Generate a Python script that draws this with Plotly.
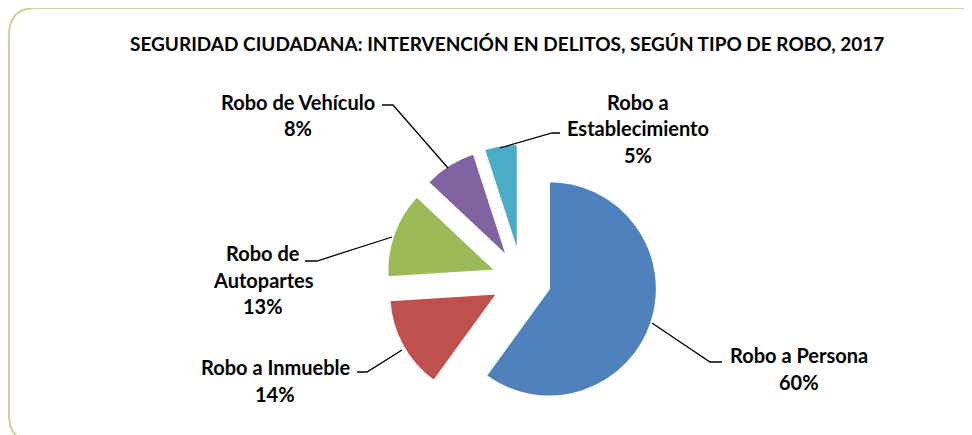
import plotly.graph_objects as go

# ---- data ----
categories = ["Robo a Persona", "Robo a Inmueble", "Robo de Autopartes",
              "Robo de Vehículo", "Robo a Establecimiento"]
values = [60, 14, 13, 8, 5]
label_lines = [["Robo a Persona"], ["Robo a Inmueble"], ["Robo de", "Autopartes"],
               ["Robo de Vehículo"], ["Robo a", "Establecimiento"]]
colors = ["#4F81BD", "#C0504D", "#9BBB59", "#8064A2", "#4BACC6"]
title_text = "SEGURIDAD CIUDADANA: INTERVENCIÓN EN DELITOS, SEGÚN TIPO DE ROBO, 2017"

# page body has an 8px margin; figure fills the rest of the 972x435 window
OFF = 8
W, H = 972 - OFF, 435 - OFF
def px(x): return (x - OFF) / W
def py(y): return 1 - (y - OFF) / H

# layout geometry (window pixels)
cx, cy, half = 522, 280, 136
label_pos = [(799, 355), (275, 367), (263, 253), (298, 102), (638, 102)]
line_gap = 26.5
leaders = [
    [(722, 362), (710, 362), (652, 323)],
    [(357, 372), (367, 372), (402, 350)],
    [(305, 261), (317, 261), (392, 237)],
    [(382, 105), (393, 105), (448, 168)],
    [(560, 133), (552, 133), (500, 148)],
]

total = sum(values)
fig = go.Figure(go.Pie(
    labels=categories, values=values, sort=False, direction="clockwise",
    rotation=0, pull=[0.267] * len(values), textinfo="none",
    marker=dict(colors=colors, line=dict(color="white", width=1.5)),
    domain=dict(x=[px(cx - half), px(cx + half)], y=[py(cy + half), py(cy - half)]),
    showlegend=False, hoverinfo="label+percent",
))

font = dict(family="Lato", size=20, color="#000000")
ann = [dict(text="<b>%s</b>" % title_text, x=px(507), y=py(44), xref="paper", yref="paper",
            showarrow=False, xanchor="center", yanchor="middle",
            font=dict(family="Lato", size=19, color="#000000"))]
for i, (lines, (lx, ly)) in enumerate(zip(label_lines, label_pos)):
    pct = "%d%%" % round(values[i] * 100 / total)
    for j, t in enumerate(lines + [pct]):
        ann.append(dict(text="<b>%s</b>" % t, x=px(lx), y=py(ly + j * line_gap),
                        xref="paper", yref="paper", showarrow=False,
                        xanchor="center", yanchor="middle", font=font))

shapes = []
for pts in leaders:
    path = "M %f %f " % (px(pts[0][0]), py(pts[0][1])) + " ".join(
        "L %f %f" % (px(x), py(y)) for x, y in pts[1:])
    shapes.append(dict(type="path", path=path, xref="paper", yref="paper",
                       line=dict(color="black", width=1.3)))

# rounded frame
L, T, R, B, r = 9, 8, 990, 442, 27
frame = ("M %f %f L %f %f Q %f %f %f %f L %f %f Q %f %f %f %f "
         "L %f %f Q %f %f %f %f L %f %f Q %f %f %f %f Z") % (
    px(L + r), py(T), px(R - r), py(T), px(R), py(T), px(R), py(T + r),
    px(R), py(B - r), px(R), py(B), px(R - r), py(B),
    px(L + r), py(B), px(L), py(B), px(L), py(B - r),
    px(L), py(T + r), px(L), py(T), px(L + r), py(T))
shapes.append(dict(type="path", path=frame, xref="paper", yref="paper",
                   line=dict(color="#C3D69B", width=2), layer="below"))

fig.update_layout(width=W, height=H, margin=dict(l=0, r=0, t=0, b=0),
                  paper_bgcolor="white", plot_bgcolor="white",
                  annotations=ann, shapes=shapes)
fig.write_html("out.html")
